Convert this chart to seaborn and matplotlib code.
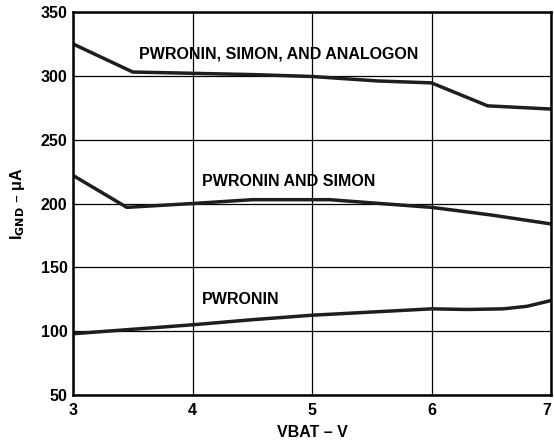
import pandas as pd
import seaborn as sns
import matplotlib.pyplot as plt

# values
vbat_all = [3.0, 3.5, 4.0, 4.5, 5.0, 5.55, 6.0, 6.47, 7.0]
ignd_all = [325, 303, 302, 301, 299.5, 296, 294.5, 276.5, 274]

vbat_sim = [3.0, 3.45, 4.0, 4.5, 5.15, 5.5, 6.0, 6.5, 7.0]
ignd_sim = [222, 197, 200, 203, 203, 200.5, 197, 191, 184]

vbat_pwr = [3.0, 3.5, 4.0, 4.5, 5.0, 5.5, 6.0, 6.3, 6.6, 6.8, 7.0]
ignd_pwr = [98, 101.5, 105, 109, 112.5, 115, 117.5, 117, 117.5, 119.5, 124]

label_all = "PWRONIN, SIMON, AND ANALOGON"
label_sim = "PWRONIN AND SIMON"
label_pwr = "PWRONIN"

x_ticks = [3, 4, 5, 6, 7]
y_ticks = [50, 100, 150, 200, 250, 300, 350]


def main():
    df = pd.concat([
        pd.DataFrame({"vbat": vbat_all, "ignd": ignd_all, "curve": label_all}),
        pd.DataFrame({"vbat": vbat_sim, "ignd": ignd_sim, "curve": label_sim}),
        pd.DataFrame({"vbat": vbat_pwr, "ignd": ignd_pwr, "curve": label_pwr}),
    ])

    sns.set_style("white")
    plt.rcParams["font.family"] = ["Liberation Sans", "DejaVu Sans"]
    plt.rcParams["text.color"] = "black"
    plt.rcParams["axes.labelcolor"] = "black"
    plt.rcParams["xtick.color"] = "black"
    plt.rcParams["ytick.color"] = "black"

    fig = plt.figure(figsize=(5.54, 4.42), dpi=100)
    ax = fig.add_axes([0.1318, 0.1063, 0.8628, 0.8665])

    sns.lineplot(data=df, x="vbat", y="ignd", units="curve", estimator=None,
                 sort=False, color="#1e1e1e", lw=2.5, ax=ax, legend=False)

    ax.set_xlim(3, 7)
    ax.set_ylim(50, 350)
    ax.set_xticks(x_ticks)
    ax.set_yticks(y_ticks)
    ax.grid(True, color="black", lw=0.9)
    ax.tick_params(length=0, labelsize=11.5)
    ax.tick_params(axis="x", pad=6)
    ax.tick_params(axis="y", pad=4)
    for lab in ax.get_xticklabels() + ax.get_yticklabels():
        lab.set_fontweight("bold")
    ax.get_xticklabels()[-1].set_horizontalalignment("right")
    for sp in ax.spines.values():
        sp.set_color("black")
        sp.set_linewidth(1.8)

    ax.set_xlabel("VBAT – V", fontsize=11.5, fontweight="bold", labelpad=5)
    ax.set_ylabel(r"I$_{\mathbf{GND}}$ – μA", fontsize=11.5, fontweight="bold", labelpad=10)

    txt = dict(fontsize=11.5, fontweight="bold", va="center", ha="left")
    ax.text(3.55, 317, label_all, **txt)
    ax.text(4.08, 217, label_sim, **txt)
    ax.text(4.08, 125, label_pwr, **txt)

    fig.savefig("out.png", dpi=100)
    plt.close(fig)


if __name__ == "__main__":
    main()
